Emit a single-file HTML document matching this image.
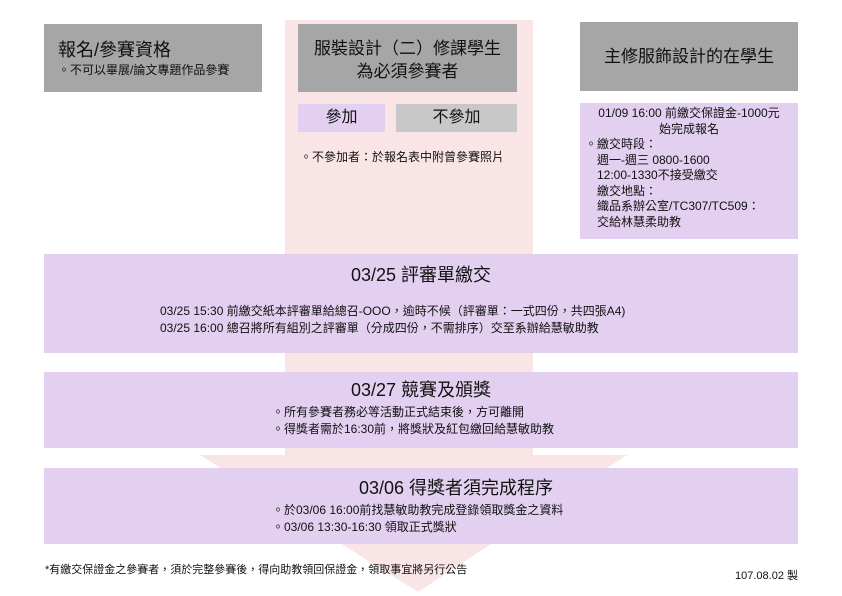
<!DOCTYPE html>
<html><head><meta charset="utf-8"><style>
body{margin:0;width:842px;height:596px;background:#fff;position:relative;overflow:hidden;font-family:"Liberation Sans","Noto Sans CJK TC",sans-serif;color:#111}
.a{position:absolute;box-sizing:border-box}
.g{background:#a6a6a6}
.l{background:#e3d0f0}
.c{text-align:center}
</style></head><body>
<svg class="a" style="left:0;top:0" width="842" height="596"><path d="M285 20 H533 V455 H627 L418 592 L200 455 H285 Z" fill="#f9e5e5"/></svg>

<div class="a g" style="left:44px;top:24px;width:218px;height:68px;padding:14px 0 0 14px">
<div style="font-size:18px;line-height:24px">報名/參賽資格</div>
<div style="font-size:12px;line-height:16px">。不可以畢展/論文專題作品參賽</div></div>

<div class="a g c" style="left:298px;top:24px;width:219px;height:68px;padding:13px 0 0;font-size:17px;line-height:23px">服裝設計（二）修課學生<br>為必須參賽者</div>

<div class="a g c" style="left:580px;top:22px;width:218px;height:69px;line-height:69px;font-size:17px">主修服飾設計的在學生</div>

<div class="a l c" style="left:298px;top:104px;width:87px;height:28px;line-height:28px;font-size:16px">參加</div>
<div class="a c" style="left:396px;top:104px;width:121px;height:28px;line-height:28px;font-size:16px;background:#c8c8c8">不參加</div>
<div class="a" style="left:300px;top:149px;font-size:12px;line-height:16px">。不參加者：於報名表中附曾參賽照片</div>

<div class="a l" style="left:580px;top:103px;width:218px;height:136px;padding:3px 0 0 5px;font-size:12px;line-height:15.5px">
<div class="c" style="margin-left:-5px">01/09 16:00 前繳交保證金-1000元<br>始完成報名</div>
<div>。繳交時段：</div>
<div style="padding-left:12px">週一-週三 0800-1600<br>12:00-1330不接受繳交<br>繳交地點：<br>織品系辦公室/TC307/TC509：<br>交給林慧柔助教</div></div>

<div class="a l" style="left:44px;top:254px;width:754px;height:99px">
<div class="a c" style="left:0;top:9px;width:754px;font-size:18px;line-height:24px">03/25 評審單繳交</div>
<div class="a" style="left:116px;top:49px;font-size:12px;line-height:17px">03/25 15:30 前繳交紙本評審單給總召-OOO，逾時不候（評審單：一式四份，共四張A4)<br>03/25 16:00 總召將所有組別之評審單（分成四份，不需排序）交至系辦給慧敏助教</div></div>

<div class="a l" style="left:44px;top:372px;width:754px;height:76px">
<div class="a c" style="left:0;top:6px;width:754px;font-size:18px;line-height:24px">03/27 競賽及頒獎</div>
<div class="a" style="left:228px;top:32px;font-size:12px;line-height:17px">。所有參賽者務必等活動正式結束後，方可離開<br>。得獎者需於16:30前，將獎狀及紅包繳回給慧敏助教</div></div>

<div class="a l" style="left:44px;top:468px;width:754px;height:76px">
<div class="a c" style="left:35px;top:8px;width:754px;font-size:18px;line-height:24px">03/06 得獎者須完成程序</div>
<div class="a" style="left:228px;top:34px;font-size:12px;line-height:17px">。於03/06 16:00前找慧敏助教完成登錄領取獎金之資料<br>。03/06 13:30-16:30 領取正式獎狀</div></div>

<div class="a" style="left:45px;top:562px;font-size:11px;line-height:16px">*有繳交保證金之參賽者，須於完整參賽後，得向助教領回保證金，領取事宜將另行公告</div>
<div class="a" style="left:735px;top:568px;font-size:11px;line-height:16px">107.08.02 製</div>
</body></html>
